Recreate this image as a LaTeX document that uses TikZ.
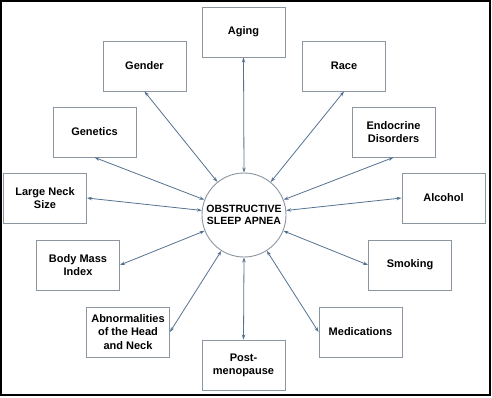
\documentclass[tikz,border=0pt]{standalone}
\usepackage{fontspec}
\setmainfont{Liberation Sans}
\usetikzlibrary{arrows.meta}
\definecolor{boxline}{RGB}{140,150,160}
\definecolor{arrline}{RGB}{85,115,145}
\begin{document}
\begin{tikzpicture}[x=1pt,y=-1pt,
  factor/.style={draw=boxline,line width=0.9pt,fill=white,minimum width=83pt,minimum height=50pt,
    inner sep=1pt,align=center,font=\fontsize{11}{13.3}\selectfont\bfseries},
  link/.style={draw=arrline,line width=0.8pt,{Stealth[length=5pt,width=3.4pt]}-{Stealth[length=5pt,width=3.4pt]}}]
\useasboundingbox (0,0) rectangle (492,397);
\fill[white] (0,0) rectangle (492,397);
\draw[black,line width=1.5pt] (0.75,0.75) rectangle (490,395);
\node[draw=boxline,line width=0.9pt,circle,minimum size=84pt,inner sep=0pt,align=center,
  font=\fontsize{10.5}{12.5}\selectfont\bfseries] (osa) at (244,215) {OBSTRUCTIVE\\SLEEP APNEA};
\node[factor] (aging) at (243.5,32) {Aging};
\node[factor] (gender) at (144.5,66) {Gender};
\node[factor] (genetics) at (94.5,132) {Genetics};
\node[factor] (neck) at (45,198) {Large Neck\\Size};
\node[factor] (bmi) at (78,265) {Body Mass\\Index};
\node[factor] (abn) at (128,332) {Abnormalities\\of the Head\\and Neck};
\node[factor] (post) at (243.5,365) {Post-\\menopause};
\node[factor] (race) at (344,66) {Race};
\node[factor] (endo) at (393.5,132) {Endocrine\\Disorders};
\node[factor] (alc) at (443.5,198) {Alcohol};
\node[factor] (smok) at (410,265) {Smoking};
\node[factor] (med) at (360.5,332) {Medications};
\draw[link] (aging.south) -- (osa.north);
\draw[link] (gender.south) -- (osa);
\draw[link] (genetics.south) -- (osa);
\draw[link] (neck.east) -- (osa);
\draw[link] (bmi.east) -- (osa);
\draw[link] (abn.east) -- (osa);
\draw[link] (post.north) -- (osa.south);
\draw[link] (race.south) -- (osa);
\draw[link] (endo.south) -- (osa);
\draw[link] (alc.west) -- (osa);
\draw[link] (smok.west) -- (osa);
\draw[link] (med.west) -- (osa);
\end{tikzpicture}
\end{document}
